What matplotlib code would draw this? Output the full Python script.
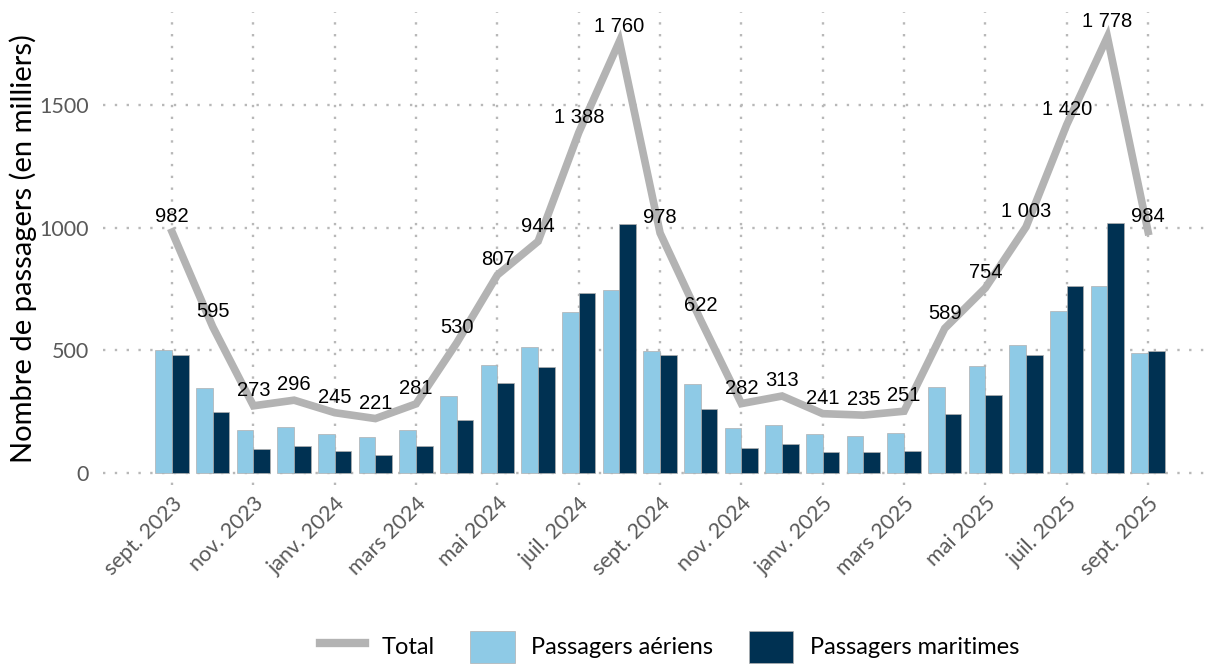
import matplotlib
matplotlib.use("Agg")
import matplotlib.pyplot as plt
import numpy as np
from matplotlib.lines import Line2D
from matplotlib.patches import Patch

# Données (en milliers de passagers)
mois = [
    "sept. 2023", "oct. 2023", "nov. 2023", "déc. 2023", "janv. 2024", "févr. 2024",
    "mars 2024", "avr. 2024", "mai 2024", "juin 2024", "juil. 2024", "août 2024",
    "sept. 2024", "oct. 2024", "nov. 2024", "déc. 2024", "janv. 2025", "févr. 2025",
    "mars 2025", "avr. 2025", "mai 2025", "juin 2025", "juil. 2025", "août 2025",
    "sept. 2025",
]
aeriens = [500, 347, 175, 186, 158, 147, 173, 314, 441, 511, 654, 745,
           497, 362, 183, 196, 156, 151, 161, 350, 436, 521, 658, 760, 487]
maritimes = [482, 248, 98, 110, 87, 74, 108, 216, 366, 433, 734, 1015,
             481, 260, 99, 117, 85, 84, 90, 239, 318, 482, 762, 1018, 497]
total = [982, 595, 273, 296, 245, 221, 281, 530, 807, 944, 1388, 1760,
         978, 622, 282, 313, 241, 235, 251, 589, 754, 1003, 1420, 1778, 984]

C_AIR = "#8ecae6"
C_MER = "#003152"
C_TOT = "#b3b3b3"
C_TICK = "#595959"

plt.rcParams["font.family"] = ["Lato", "DejaVu Sans"]

fig = plt.figure(figsize=(12.13, 6.64), dpi=100)
ax = fig.add_axes([0.0849, 0.2696, 0.9085, 0.7124])

x = np.arange(len(mois))
w = 0.41
ax.bar(x - w / 2, aeriens, w, color=C_AIR, edgecolor="#b0b0b0", linewidth=0.5, zorder=2)
ax.bar(x + w / 2, maritimes, w, color=C_MER, edgecolor="#b0b0b0", linewidth=0.5, zorder=2)
ax.plot(x, total, color=C_TOT, linewidth=5.5, solid_joinstyle="miter", zorder=3)

for xi, v in zip(x, total):
    lab = f"{v:,}".replace(",", " ")
    ax.annotate(lab, (xi, v), xytext=(0, 11), textcoords="offset points",
                ha="center", va="center", fontsize=14.5, color="black",
                family=["Liberation Sans", "DejaVu Sans"], zorder=4,
                annotation_clip=False)

ax.set_xlim(-1.7, 25.4)
ax.set_ylim(-50, 1880)
ax.set_yticks([0, 500, 1000, 1500])
ax.set_xticks(x[::2])
ax.set_xticklabels(mois[::2], rotation=45, ha="right", rotation_mode="anchor")
ax.tick_params(axis="both", length=0, labelsize=15.5, colors=C_TICK)
ax.tick_params(axis="x", pad=6)
ax.tick_params(axis="y", pad=10)
ax.grid(True, color="#b8b8b8", linestyle=(0, (1, 4)), linewidth=1.7, zorder=0)
for s in ax.spines.values():
    s.set_visible(False)
ax.set_ylabel("Nombre de passagers (en milliers)", fontsize=21, color="black", labelpad=2)

handles = [
    Line2D([0], [0], color=C_TOT, linewidth=6),
    Patch(facecolor=C_AIR, edgecolor="#b0b0b0", linewidth=0.5),
    Patch(facecolor=C_MER, edgecolor="#b0b0b0", linewidth=0.5),
]
fig.legend(handles, ["Total", "Passagers aériens", "Passagers maritimes"],
           loc="lower center", bbox_to_anchor=(0.552, -0.03), ncol=3, frameon=False,
           fontsize=17, handlelength=1.9, handleheight=1.7, columnspacing=1.5,
           handletextpad=0.7)

fig.savefig("out.png", dpi=100)
